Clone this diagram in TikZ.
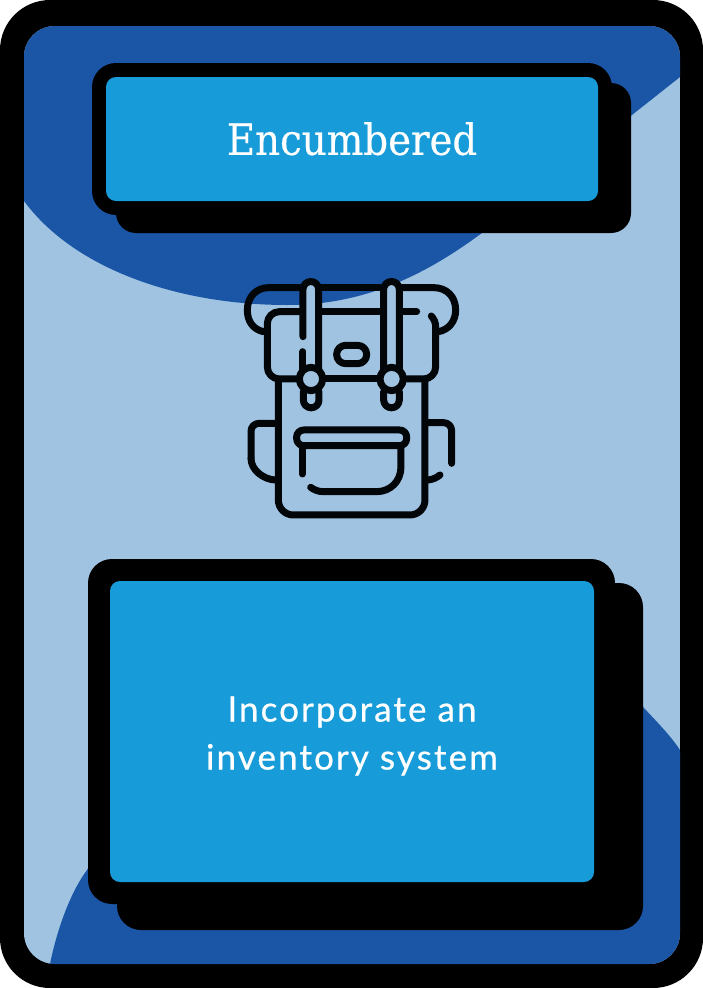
\documentclass[tikz,border=0pt]{standalone}
\usepackage{fontspec}
\setmainfont{Lato}
\newfontfamily\slabfont[FakeBold=0.4]{DejaVu Serif Condensed}
\newfontfamily\panelfont[LetterSpace=6,FakeBold=0.6]{Lato}
\definecolor{deepblue}{HTML}{1A56A5}
\definecolor{paleblue}{HTML}{A0C3E2}
\definecolor{cardblue}{HTML}{189CD9}
\definecolor{inkblack}{HTML}{020608}
\tikzset{
    cardshade/.style={fill=black, rounded corners=24pt},
    cardface/.style={fill=cardblue, text=white, rounded corners=10pt, inner sep=0pt, align=center},
    packline/.style={draw=inkblack, line width=7pt, line cap=round, line join=round},
    strapfill/.style={packline, fill=paleblue},
}
\begin{document}
\begin{tikzpicture}[x=1pt, y=-1pt]
    \useasboundingbox (0,0) rectangle (703,988);

    % card and background
    \fill[black, rounded corners=50pt] (0,0) rectangle (703,988);
    \begin{scope}
        \clip[rounded corners=31pt] (24,26) rectangle (680,964);
        \fill[paleblue] (24,26) rectangle (680,964);
        \fill[deepblue] (0,170) -- (24,201) .. controls (75,270) and (180,305) .. (287,305)
            .. controls (365,305) and (425,275) .. (482,233)
            .. controls (540,190) and (600,140) .. (632,115)
            -- (680,77) -- (720,40) -- (720,0) -- (0,0) -- cycle;
        \fill[deepblue] (50,964) .. controls (58,925) and (72,890) .. (87,870)
            .. controls (150,760) and (330,640) .. (500,630)
            .. controls (570,640) and (620,675) .. (644,708)
            .. controls (657,722) and (670,735) .. (680,750)
            -- (720,820) -- (720,1000) -- (50,1000) -- cycle;
    \end{scope}

    % top panel
    \fill[cardshade] (92,63) rectangle (612,215);
    \fill[cardshade, rounded corners=20pt] (116,83) rectangle (631,233);
    \node[cardface, minimum width=492pt, minimum height=124pt, font=\fontsize{43}{48}\selectfont\slabfont] (title) at (352,139)
        {\raisebox{1pt}{Encumbered}};

    % bottom panel
    \fill[cardshade] (88,559) rectangle (615,904);
    \fill[cardshade] (117,583) rectangle (643,930);
    \node[cardface, minimum width=484pt, minimum height=301pt, font=\fontsize{35}{48}\selectfont\panelfont, text depth=0pt] (rule) at (352,731.5)
        {\raisebox{-3pt}{Incorporate an}\\ \raisebox{-3pt}{inventory system}};

    % backpack, in thirds of a pixel
    \begin{scope}[shift={(230,270)}, x=0.3333pt, y=-0.3333pt]
        % body and side pockets
        \draw[packline, rounded corners=15pt] (145,335) -- (145,735) -- (585,735) -- (585,335);
        \draw[packline, rounded corners=8pt] (135,460) -- (63,460) -- (63,565);
        \draw[packline] (63,565) .. controls (63,600) and (100,628) .. (135,630);
        \draw[packline, rounded corners=8pt] (595,458) -- (665,458) -- (665,580);
        \draw[packline] (595,630) .. controls (610,628) and (620,623) .. (630,615);
        % front pocket
        \draw[packline, rounded corners=7pt] (200,480) rectangle (530,527);
        \draw[packline] (217,535) -- (217,612);
        \draw[packline] (513,535) -- (513,590) .. controls (513,635) and (480,665) .. (440,665)
            -- (280,665) .. controls (265,665) and (253,660) .. (242,652);
        % roll on top
        \draw[packline] (100,185) .. controls (70,178) and (52,155) .. (52,120)
            .. controls (52,80) and (80,53) .. (115,53) -- (210,53);
        \draw[packline] (275,53) -- (450,53);
        \draw[packline] (515,53) -- (612,53) .. controls (650,53) and (677,80) .. (677,120)
            .. controls (677,155) and (655,180) .. (625,185);
        % flap
        \draw[packline, rounded corners=12pt] (205,327) -- (112,327) -- (112,125) -- (210,125);
        \draw[packline] (275,125) -- (450,125);
        \draw[packline] (515,125) -- (560,125);
        \draw[packline] (285,327) -- (445,327);
        \draw[packline, rounded corners=12pt] (525,327) -- (617,327) -- (617,200);
        \draw[packline] (617,200) -- (617,170) .. controls (617,158) and (612,147) .. (604,138);
        % oval badge
        \draw[packline, rounded corners=9pt] (320,226) rectangle (410,281);
        % straps
        \fill[paleblue] (219,58) arc[start angle=180, end angle=360, radius=23.5] -- (266,300) -- (219,300) -- cycle;
        \draw[packline] (219,200) -- (219,58) arc[start angle=180, end angle=360, radius=23.5] -- (266,300);
        \draw[packline] (219,245) -- (219,300);
        \fill[paleblue] (461,58) arc[start angle=180, end angle=360, radius=23.5] -- (508,300) -- (461,300) -- cycle;
        \draw[packline] (461,300) -- (461,58) arc[start angle=180, end angle=360, radius=23.5] -- (508,300);
        % strap ends
        \draw[packline] (220,365) -- (220,390) arc[start angle=180, end angle=0, radius=23.5] -- (267,365);
        \draw[packline] (461,365) -- (461,390) arc[start angle=180, end angle=0, radius=23.5] -- (508,365);
        % buckles
        \draw[strapfill] (243,327) circle[radius=35];
        \draw[strapfill] (485,327) circle[radius=35];
    \end{scope}
\end{tikzpicture}
\end{document}
